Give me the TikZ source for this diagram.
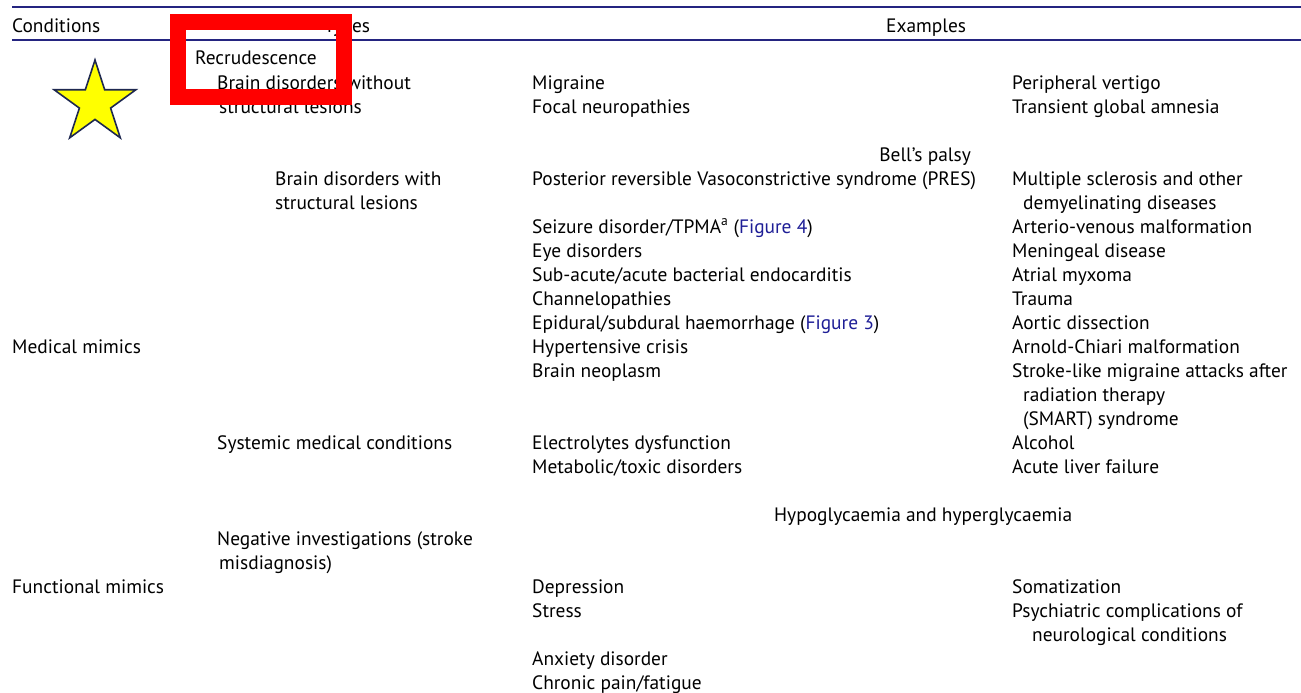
\documentclass[tikz,border=0pt]{standalone}
\usepackage{xcolor}
\usepackage{fontspec}
\setmainfont{PT Sans}
\usepackage{tikz}
\usetikzlibrary{shapes.geometric}
\definecolor{rulenavy}{RGB}{36,36,128}
\definecolor{figblue}{RGB}{30,30,150}
\definecolor{staryellow}{RGB}{255,255,0}
\definecolor{staredge}{RGB}{30,40,80}

\begin{document}
\begin{tikzpicture}[x=1pt, y=-1pt,
                    txt/.style={anchor=base west, inner sep=0pt, yshift=-1pt, font=\fontsize{19.4}{24}\selectfont},
                    hrule/.style={draw=rulenavy, line width=2pt}]
                    \useasboundingbox (0,0) rectangle (1301,693);
                    % table rules
                    \coordinate (topL) at (12,7);
                    \coordinate (topR) at (1301,7);
                    \coordinate (headL) at (12,40);
                    \coordinate (headR) at (1301,40);
                    \draw[hrule] (topL) -- (topR);
                    \draw[hrule] (headL) -- (headR);
                    % header
                    \node[txt] (cond) at (12,32) {Conditions};
                    \node[txt] (types) at (324,32) {Types};
                    \node[txt] (ex) at (886,32) {Examples};
                    % first column
                    \node[txt] (med) at (12,352) {Medical mimics};
                    \node[txt] (func) at (12,592) {Functional mimics};
                    % second column
                    \node[txt] (rec) at (195,64) {Recrudescence};
                    \node[txt] (bdwo) at (217,88) {Brain disorders without};
                    \node[txt] (bdwoa) at (219,112) {structural lesions};
                    \node[txt] (bdw) at (275,184) {Brain disorders with};
                    \node[txt] (bdwa) at (275,208) {structural lesions};
                    \node[txt] (sys) at (217,448) {Systemic medical conditions};
                    \node[txt] (neg) at (217,544) {Negative investigations (stroke};
                    \node[txt] (nega) at (219,568) {misdiagnosis)};
                    % examples, left
                    \node[txt] (mig) at (532,88) {Migraine};
                    \node[txt] (focal) at (532,112) {Focal neuropathies};
                    \node[txt] (pres) at (532,184) {Posterior reversible Vasoconstrictive syndrome (PRES)};
                    \node[txt] (seiz) at (532,232) {Seizure disorder/TPMA\textsuperscript{a} (\textcolor{figblue}{Figure 4})};
                    \node[txt] (eye) at (532,256) {Eye disorders};
                    \node[txt] (endo) at (532,280) {Sub-acute/acute bacterial endocarditis};
                    \node[txt] (chan) at (532,304) {Channelopathies};
                    \node[txt] (epid) at (532,328) {Epidural/subdural haemorrhage (\textcolor{figblue}{Figure 3})};
                    \node[txt] (hyp) at (532,352) {Hypertensive crisis};
                    \node[txt] (neo) at (532,376) {Brain neoplasm};
                    \node[txt] (elec) at (532,448) {Electrolytes dysfunction};
                    \node[txt] (meta) at (532,472) {Metabolic/toxic disorders};
                    \node[txt] (dep) at (532,592) {Depression};
                    \node[txt] (stress) at (532,616) {Stress};
                    \node[txt] (anx) at (532,664) {Anxiety disorder};
                    \node[txt] (pain) at (532,688) {Chronic pain/fatigue};
                    % examples, middle
                    \node[txt, anchor=base east] (bell) at (971,160) {Bell’s palsy};
                    \node[txt] (glyc) at (774,520) {Hypoglycaemia and hyperglycaemia};
                    % examples, right
                    \node[txt] (vert) at (1012,88) {Peripheral vertigo};
                    \node[txt] (tga) at (1012,112) {Transient global amnesia};
                    \node[txt] (ms) at (1012,184) {Multiple sclerosis and other};
                    \node[txt] (msa) at (1023,208) {demyelinating diseases};
                    \node[txt] (avm) at (1012,232) {Arterio-venous malformation};
                    \node[txt] (men) at (1012,256) {Meningeal disease};
                    \node[txt] (myx) at (1012,280) {Atrial myxoma};
                    \node[txt] (trau) at (1012,304) {Trauma};
                    \node[txt] (aort) at (1012,328) {Aortic dissection};
                    \node[txt] (chiari) at (1012,352) {Arnold-Chiari malformation};
                    \node[txt] (smart) at (1012,376) {Stroke-like migraine attacks after};
                    \node[txt] (smarta) at (1023,400) {radiation therapy};
                    \node[txt] (smartb) at (1023,424) {(SMART) syndrome};
                    \node[txt] (alc) at (1012,448) {Alcohol};
                    \node[txt] (liver) at (1012,472) {Acute liver failure};
                    \node[txt] (som) at (1012,592) {Somatization};
                    \node[txt] (psy) at (1012,616) {Psychiatric complications of};
                    \node[txt] (psya) at (1032,640) {neurological conditions};
                    % marks
                    \node[star, star points=5, star point ratio=2.618, minimum size=86pt, inner sep=0pt,
                          fill=staryellow, draw=staredge, line width=1.6pt] (mark) at (95,103) {};
                    \draw[red, line width=16pt] (178,22) rectangle (344,97);
                \end{tikzpicture}
\end{document}
